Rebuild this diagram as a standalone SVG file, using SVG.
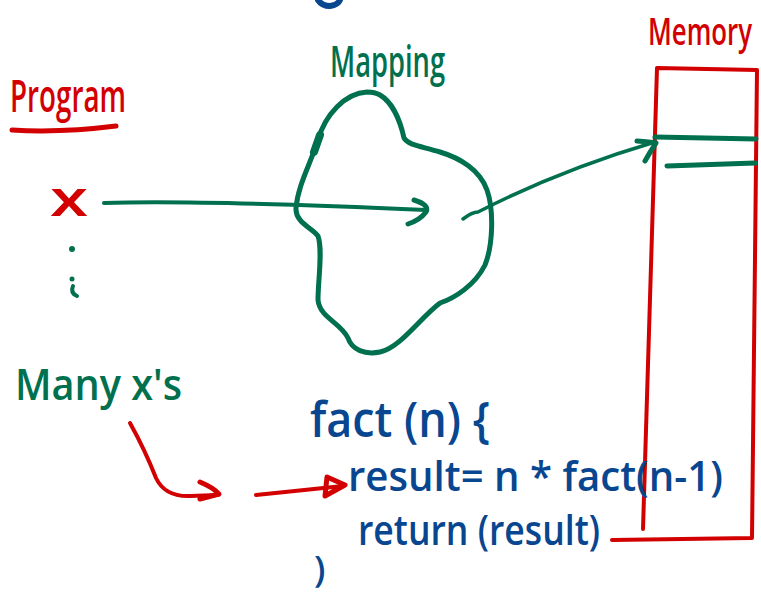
<svg xmlns="http://www.w3.org/2000/svg" width="761" height="595" viewBox="0 0 761 595">
<defs>
<style>
.t{font-family:"Open Sans","Noto Sans","Liberation Sans",sans-serif;font-weight:600}
.red{fill:#d20000}
.green{fill:#00704f}
.blue{fill:#084690}
.sr{stroke:#d20000;fill:none;stroke-linecap:round;stroke-linejoin:round}
.sg{stroke:#00704f;fill:none;stroke-linecap:round;stroke-linejoin:round}
.sb{stroke:#084690;fill:none;stroke-linecap:round;stroke-linejoin:round}
</style>
</defs>
<rect width="761" height="595" fill="#ffffff"/>

<path class="sb" stroke-width="6" d="M318 0 Q322 6 330 6 Q338 5 340 0"/>

<g id="program">
<text class="t red" x="10" y="112" font-size="46" textLength="116" lengthAdjust="spacingAndGlyphs">Program</text>
<path class="sr" stroke-width="5" d="M12 130 Q60 133 116 126"/>
</g>

<g id="x">
<text class="t red" x="50" y="216" font-size="50" textLength="38" lengthAdjust="spacingAndGlyphs">x</text>
<circle cx="72" cy="249" r="3" fill="#00704f"/>
<circle cx="72" cy="279" r="2.5" fill="#00704f"/>
<path class="sg" stroke-width="4" d="M73 286 Q70 293 77 296"/>
</g>

<g id="mapping">
<text class="t green" x="330" y="77" font-size="44" textLength="115" lengthAdjust="spacingAndGlyphs">Mapping</text>
<path class="sg" stroke-width="5" d="M367 92 C345 93 325 115 318 140 C310 165 298 185 296 208 C295 222 312 228 318 236 C323 250 318 280 318 300 C320 318 340 322 348 338 C352 350 365 355 380 352 C400 348 420 318 440 303 C455 298 475 285 485 265 C493 245 494 210 487 190 C480 170 460 158 440 152 C420 146 408 145 404 138 C400 120 392 102 380 95 C375 92 370 92 367 92 Z"/>
<path class="sg" stroke-width="8" d="M320 135 L314 152"/>
</g>

<g id="memory">
<text class="t red" transform="translate(648,45) scale(1,1.35)" x="0" y="0" font-size="28" textLength="104" lengthAdjust="spacingAndGlyphs">Memory</text>
<path class="sr" stroke-width="4" d="M643 529 L657 68 L757 70 L752 538 L612 540"/>
<path class="sg" stroke-width="5" d="M655 137 L756 139"/>
<path class="sg" stroke-width="5" d="M667 166 L755 163"/>
</g>

<g id="many-xs">
<text class="t green" x="15" y="400" font-size="44" textLength="167" lengthAdjust="spacingAndGlyphs">Many x's</text>
</g>

<g id="code">
<text class="t blue" x="310" y="437" font-size="48" textLength="180" lengthAdjust="spacingAndGlyphs">fact (n) {</text>
<text class="t blue" x="348" y="491" font-size="41" textLength="375" lengthAdjust="spacingAndGlyphs">result= n * fact(n-1)</text>
<text class="t blue" x="358" y="545" font-size="41" textLength="242" lengthAdjust="spacingAndGlyphs">return (result)</text>
<text class="t blue" x="314" y="582" font-size="36">)</text>
</g>

<g id="connectors">
<path class="sg" stroke-width="4" d="M104 203 Q200 200 426 210"/>
<path class="sg" stroke-width="5" d="M414 200 Q430 205 426 212 Q420 220 408 224"/>
<path class="sg" stroke-width="3.5" d="M463 219 Q472 212 478 212 Q560 170 655 142"/>
<path class="sg" stroke-width="5" d="M637 141 Q650 142 656 143 Q650 152 645 161"/>
<path class="sr" stroke-width="4" d="M130 423 Q145 450 156 478 Q165 497 190 496 L218 495"/>
<path class="sr" stroke-width="5" d="M200 482 Q214 488 219 494 L200 499"/>
<path class="sr" stroke-width="4" d="M256 495 L343 486"/>
<path class="sr" stroke-width="5" d="M327 477 L345 485 L325 496 Z" fill="#d20000"/>
</g>
</svg>
